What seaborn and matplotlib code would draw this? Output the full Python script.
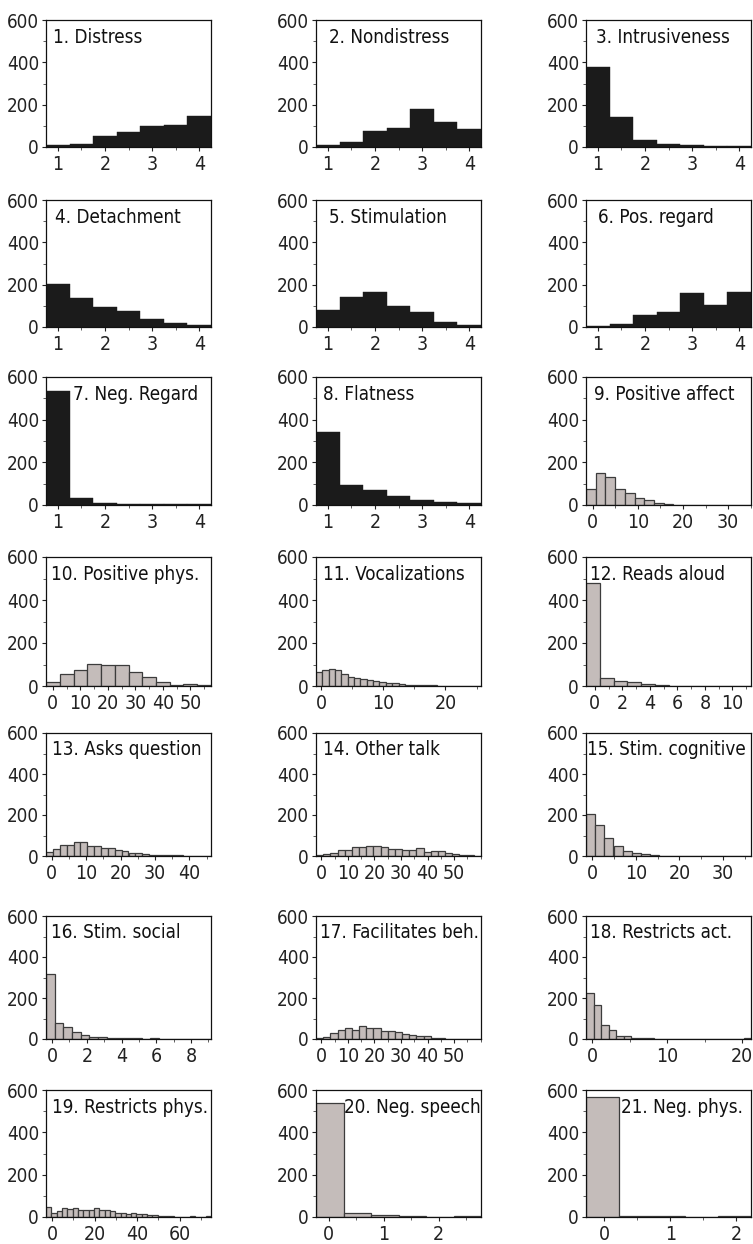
import numpy as np
import pandas as pd
import seaborn as sns
import matplotlib
matplotlib.use("Agg")
import matplotlib.pyplot as plt
from matplotlib import font_manager as fm
from matplotlib.ticker import MultipleLocator, FixedLocator

# ---------------- data ----------------
titles = ["1. Distress", "2. Nondistress", "3. Intrusiveness",
          "4. Detachment", "5. Stimulation", "6. Pos. regard",
          "7. Neg. Regard", "8. Flatness", "9. Positive affect",
          "10. Positive phys.", "11. Vocalizations", "12. Reads aloud",
          "13. Asks question", "14. Other talk", "15. Stim. cognitive",
          "16. Stim. social", "17. Facilitates beh.", "18. Restricts act.",
          "19. Restricts phys.", "20. Neg. speech", "21. Neg. phys."]

counts_01 = [10, 15, 50, 70, 100, 105, 145]
counts_02 = [8, 25, 75, 90, 180, 120, 85]
counts_03 = [380, 140, 35, 15, 8, 5, 5]
counts_04 = [205, 135, 95, 75, 40, 20, 10]
counts_05 = [80, 140, 165, 100, 70, 25, 8]
counts_06 = [5, 12, 55, 70, 160, 105, 165]
counts_07 = [535, 35, 8, 5, 3, 3, 3]
counts_08 = [340, 95, 70, 40, 25, 12, 8]
counts_09 = [75, 150, 130, 75, 55, 35, 25, 8, 3, 2, 2, 2, 2, 1, 1, 1, 2]
counts_10 = [20, 55, 75, 103, 100, 98, 65, 40, 20, 5, 10, 3]
counts_11 = [65, 75, 78, 75, 55, 42, 38, 32, 27, 22, 18, 12, 15, 8, 5, 5,
             4, 3, 3, 2, 2, 2, 1, 1, 1, 1]
counts_12 = [480, 38, 22, 18, 8, 3, 2, 2, 2, 2, 2, 2]
counts_13 = [20, 36, 56, 52, 66, 68, 48, 47, 39, 38, 29, 22, 16, 15, 11, 7,
             5, 5, 3, 3, 2, 2, 1, 2]
counts_14 = [3, 8, 15, 28, 30, 45, 42, 50, 50, 45, 35, 35, 30, 30, 40, 18,
             22, 22, 15, 8, 5, 3, 2]
counts_15 = [205, 150, 90, 48, 25, 15, 10, 5, 2, 2, 1, 1, 1, 2, 1, 1, 1, 2]
counts_16 = [315, 80, 60, 35, 20, 10, 12, 3, 3, 4, 3, 1, 3, 2, 1, 1, 1, 2, 1]
counts_17 = [4, 9, 29, 46, 55, 46, 61, 56, 52, 40, 38, 34, 26, 19, 14, 14,
             4, 3, 2, 2, 1, 1, 2]
counts_18 = [225, 165, 68, 42, 14, 16, 4, 4, 7, 2, 2, 2, 1, 1, 1, 1, 1, 1,
             1, 1, 1, 3]
counts_19 = [46, 21, 30, 41, 38, 44, 35, 35, 35, 41, 33, 31, 26, 21, 18, 16,
             20, 13, 13, 9, 11, 6, 5, 3, 2, 2, 1, 3, 1, 1, 3]
counts_20 = [540, 17, 10, 4, 1, 4]
counts_21 = [565, 4, 3, 1, 3]

all_counts = [counts_01, counts_02, counts_03, counts_04, counts_05, counts_06,
              counts_07, counts_08, counts_09, counts_10, counts_11, counts_12,
              counts_13, counts_14, counts_15, counts_16, counts_17, counts_18,
              counts_19, counts_20, counts_21]

# first bin edge and bin width of each panel
bin_start = [0.75] * 8 + [-1.5, -2.5, -0.8, -0.65, -1.7, -2.0, -1.4, -0.35,
                          -2.0, -0.8, -2.8, -0.23, -0.28]
bin_width = [0.5] * 8 + [2.15, 5.0, 1.02, 1.0, 2.0, 2.7, 2.1, 0.5,
                         2.7, 1.0, 2.5, 0.5, 0.5]

xticks = [[1, 2, 3, 4]] * 8 + [
    [0, 10, 20, 30], [0, 10, 20, 30, 40, 50], [0, 10, 20],
    [0, 2, 4, 6, 8, 10], [0, 10, 20, 30, 40], [0, 10, 20, 30, 40, 50],
    [0, 10, 20, 30], [0, 2, 4, 6, 8], [0, 10, 20, 30, 40, 50],
    [0, 10, 20], [0, 20, 40, 60], [0, 1, 2], [0, 1, 2]]
xminor = [0.5] * 8 + [5, 5, 5, 1, 5, 5, 5, 1, 5, 5, 10, 0.5, 0.5]
yticks = [0, 200, 400, 600]

# title x position (axes fraction)
title_x = [0.045, 0.08, 0.06, 0.055, 0.08, 0.075, 0.165, 0.045, 0.05,
           0.03, 0.045, 0.025, 0.035, 0.045, 0.005, 0.03, 0.025, 0.025,
           0.035, 0.17, 0.21]

# ---------------- style ----------------
sns.set_theme(style="ticks")

title_size = 13.5
ylab_size = 13.5
xlab_size = 14
cond_path = fm.findfont(fm.FontProperties(family="DejaVu Sans",
                                          stretch="condensed"))
narrow = [f for f in fm.fontManager.ttflist
          if ("Narrow" in f.name or "Condensed" in f.name)]
if "Condensed" in cond_path:
    plt.rcParams["font.family"] = ["DejaVu Sans"]
    plt.rcParams["font.stretch"] = "condensed"
elif narrow:
    plt.rcParams["font.family"] = [narrow[0].name, "DejaVu Sans"]
else:
    plt.rcParams["font.family"] = ["Liberation Sans", "DejaVu Sans"]
plt.rcParams["axes.linewidth"] = 0.9

dark = "#1b1b1b"
light = "#c4bcba"
edge_light = "#3c3c3c"

fig = plt.figure(figsize=(7.53, 12.44), dpi=100)
W, H = 753.0, 1244.0
col_left = [46, 316, 586]
ax_w = 165
row_top = [20, 200, 377, 557, 733, 916, 1090]
row_bot = [147, 327, 505, 686, 856, 1039, 1217]

for i in range(21):
    r, c = divmod(i, 3)
    ax = fig.add_axes([col_left[c] / W, 1 - row_bot[r] / H,
                       ax_w / W, (row_bot[r] - row_top[r]) / H])
    cnt = np.asarray(all_counts[i], dtype=float)
    n = len(cnt)
    lo = bin_start[i]
    hi = bin_start[i] + bin_width[i] * n
    centers = lo + bin_width[i] * (np.arange(n) + 0.5)
    df = pd.DataFrame({"value": centers, "count": cnt})
    if i < 8:
        sns.histplot(data=df, x="value", weights="count", bins=n,
                     binrange=(lo, hi), ax=ax,
                     color=dark, edgecolor=dark, linewidth=0.3, alpha=1)
    else:
        sns.histplot(data=df, x="value", weights="count", bins=n,
                     binrange=(lo, hi), ax=ax,
                     color=light, edgecolor=edge_light, linewidth=0.9, alpha=1)
    ax.set_xlim(lo, hi)
    ax.set_ylim(0, 600)
    ax.set_xlabel("")
    ax.set_ylabel("")
    ax.set_xticks(xticks[i])
    ax.xaxis.set_minor_locator(MultipleLocator(xminor[i]))
    ax.set_yticks(yticks)
    ax.yaxis.set_minor_locator(FixedLocator([100, 300, 500]))
    ax.tick_params(axis="both", which="major", length=3, width=0.8,
                   colors="#222222", direction="out")
    ax.tick_params(axis="y", which="major", labelsize=ylab_size, pad=2)
    ax.tick_params(axis="x", which="major", labelsize=xlab_size, pad=3)
    ax.tick_params(axis="both", which="minor", length=2.5, width=0.6,
                   colors="#444444", direction="out")
    for s in ax.spines.values():
        s.set_visible(True)
        s.set_color("#111111")
        s.set_linewidth(0.9)
    ax.text(title_x[i], 0.94, titles[i], transform=ax.transAxes,
            ha="left", va="top", fontsize=title_size, color="#111111")

fig.savefig("out.png", dpi=100)
